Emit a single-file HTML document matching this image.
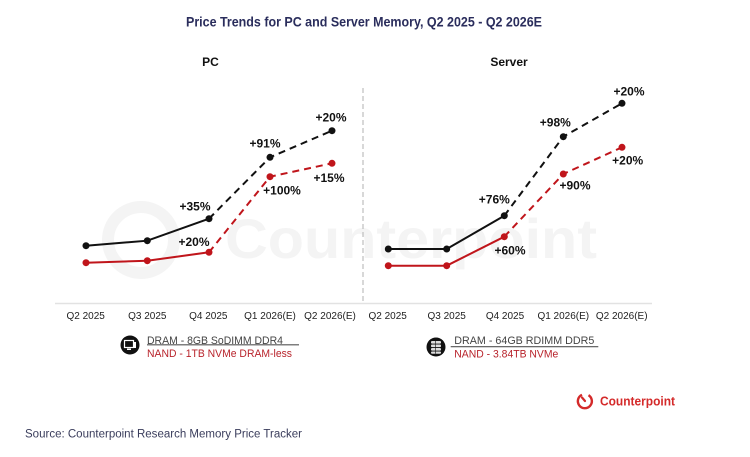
<!DOCTYPE html>
<html><head><meta charset="utf-8"><style>
html,body{margin:0;padding:0;background:#fff;}
svg{display:block;}
text{font-family:"Liberation Sans",Arial,sans-serif;}
</style></head><body>
<svg width="750" height="457" viewBox="0 0 750 457" xmlns="http://www.w3.org/2000/svg">
<rect width="750" height="457" fill="#fff"/>
<!-- watermark -->
<g opacity="1">
<circle cx="141" cy="240" r="33" fill="none" stroke="#f4f4f4" stroke-width="12"/>
<text x="225" y="258" font-size="56" font-weight="bold" fill="#f4f4f4" textLength="372" lengthAdjust="spacingAndGlyphs">Counterpoint</text>
</g>
<!-- title -->
<text x="186" y="26.5" font-size="14" font-weight="bold" fill="#2a2d5c" textLength="356" lengthAdjust="spacingAndGlyphs">Price Trends for PC and Server Memory, Q2 2025 - Q2 2026E</text>
<text x="210.5" y="66" font-size="12" font-weight="bold" fill="#111" text-anchor="middle">PC</text>
<text x="509" y="66" font-size="12" font-weight="bold" fill="#111" text-anchor="middle">Server</text>
<!-- divider -->
<line x1="363" y1="88" x2="363" y2="302" stroke="#bdbdbd" stroke-width="1.2" stroke-dasharray="5,3"/>
<!-- axis -->
<line x1="55" y1="303.5" x2="652" y2="303.5" stroke="#e2e2e2" stroke-width="1.5"/>
<!-- PC DRAM -->
<polyline points="86,245.7 147.3,240.7 209,218.7" fill="none" stroke="#111" stroke-width="2"/>
<polyline points="209,218.7 270,157.3 332,130.7" fill="none" stroke="#111" stroke-width="2" stroke-dasharray="7,5"/>
<!-- PC NAND -->
<polyline points="86,262.7 147.3,260.7 209,252.3" fill="none" stroke="#c0151b" stroke-width="2"/>
<polyline points="209,252.3 270,176.7 332,163.3" fill="none" stroke="#c0151b" stroke-width="2" stroke-dasharray="7,5"/>
<g fill="#111">
<circle cx="86" cy="245.7" r="3.5"/><circle cx="147.3" cy="240.7" r="3.5"/><circle cx="209" cy="218.7" r="3.5"/><circle cx="270" cy="157.3" r="3.5"/><circle cx="332" cy="130.7" r="3.5"/>
</g>
<g fill="#c0151b">
<circle cx="86" cy="262.7" r="3.5"/><circle cx="147.3" cy="260.7" r="3.5"/><circle cx="209" cy="252.3" r="3.5"/><circle cx="270" cy="176.7" r="3.5"/><circle cx="332" cy="163.3" r="3.5"/>
</g>
<!-- Server DRAM -->
<polyline points="388.3,249 446.7,249 504.3,215.7" fill="none" stroke="#111" stroke-width="2"/>
<polyline points="504.3,215.7 563.3,136.7 622,103.3" fill="none" stroke="#111" stroke-width="2" stroke-dasharray="7,5"/>
<polyline points="388.3,265.7 446.7,265.7 504.3,236.7" fill="none" stroke="#c0151b" stroke-width="2"/>
<polyline points="504.3,236.7 563.3,174 622,147.3" fill="none" stroke="#c0151b" stroke-width="2" stroke-dasharray="7,5"/>
<g fill="#111">
<circle cx="388.3" cy="249" r="3.5"/><circle cx="446.7" cy="249" r="3.5"/><circle cx="504.3" cy="215.7" r="3.5"/><circle cx="563.3" cy="136.7" r="3.5"/><circle cx="622" cy="103.3" r="3.5"/>
</g>
<g fill="#c0151b">
<circle cx="388.3" cy="265.7" r="3.5"/><circle cx="446.7" cy="265.7" r="3.5"/><circle cx="504.3" cy="236.7" r="3.5"/><circle cx="563.3" cy="174" r="3.5"/><circle cx="622" cy="147.3" r="3.5"/>
</g>
<!-- data labels -->
<g font-size="12" font-weight="bold" fill="#111" text-anchor="middle">
<text x="195" y="210.3">+35%</text>
<text x="194" y="246">+20%</text>
<text x="265" y="147.3">+91%</text>
<text x="282" y="194.3">+100%</text>
<text x="331" y="121.3">+20%</text>
<text x="329" y="182">+15%</text>
<text x="494.3" y="203.6">+76%</text>
<text x="510" y="254.3">+60%</text>
<text x="555.3" y="126.6">+98%</text>
<text x="575" y="189.3">+90%</text>
<text x="629" y="95.3">+20%</text>
<text x="627.7" y="164.3">+20%</text>
</g>
<!-- ticks -->
<g font-size="10" fill="#222" text-anchor="middle">
<text x="85.7" y="318.8">Q2 2025</text>
<text x="147.3" y="318.8">Q3 2025</text>
<text x="208.3" y="318.8">Q4 2025</text>
<text x="270" y="318.8">Q1 2026(E)</text>
<text x="330" y="318.8">Q2 2026(E)</text>
<text x="387.7" y="318.8">Q2 2025</text>
<text x="446.7" y="318.8">Q3 2025</text>
<text x="505" y="318.8">Q4 2025</text>
<text x="563.3" y="318.8">Q1 2026(E)</text>
<text x="621.7" y="318.8">Q2 2026(E)</text>
</g>
<!-- PC legend -->
<circle cx="130" cy="345" r="9.5" fill="#111"/>
<rect x="124.5" y="340.5" width="9" height="7" fill="none" stroke="#fff" stroke-width="1.2"/>
<rect x="127" y="348.5" width="4" height="1.5" fill="#fff"/>
<rect x="133" y="342" width="3" height="6" fill="#fff"/>
<text x="147" y="344" font-size="11" fill="#444" textLength="136" lengthAdjust="spacingAndGlyphs">DRAM - 8GB SoDIMM DDR4</text>
<line x1="147" y1="344.8" x2="299" y2="344.8" stroke="#555" stroke-width="1.2"/>
<text x="147" y="357" font-size="11" fill="#b8232b" textLength="145" lengthAdjust="spacingAndGlyphs">NAND - 1TB NVMe DRAM-less</text>
<!-- Server legend -->
<circle cx="436" cy="347" r="9.5" fill="#111"/>
<g fill="#ddd">
<rect x="431" y="341" width="10" height="2.6" rx="1"/>
<rect x="431" y="344.5" width="10" height="2.6" rx="1"/>
<rect x="431" y="348" width="10" height="2.6" rx="1"/>
<rect x="431" y="351.5" width="10" height="2.2" rx="1"/>
</g>
<line x1="435.5" y1="341" x2="435.5" y2="353.7" stroke="#111" stroke-width="0.6"/>
<text x="454.3" y="344" font-size="11" fill="#444" textLength="140" lengthAdjust="spacingAndGlyphs">DRAM - 64GB RDIMM DDR5</text>
<line x1="450.7" y1="346.7" x2="598.3" y2="346.7" stroke="#555" stroke-width="1.2"/>
<text x="454.3" y="357.3" font-size="11" fill="#b8232b" textLength="104" lengthAdjust="spacingAndGlyphs">NAND - 3.84TB NVMe</text>
<!-- Counterpoint logo -->
<path d="M582 394.8 A7 7 0 1 0 588.5 395.2" fill="none" stroke="#d42a2a" stroke-width="2.4"/>
<line x1="585" y1="401" x2="582" y2="397.5" stroke="#d42a2a" stroke-width="2.2" stroke-linecap="round"/>
<text x="600" y="405.5" font-size="12.5" font-weight="bold" fill="#d42a2a" textLength="75" lengthAdjust="spacingAndGlyphs">Counterpoint</text>
<!-- source -->
<text x="25" y="437.3" font-size="11.5" fill="#3a3d5c" textLength="277" lengthAdjust="spacingAndGlyphs">Source: Counterpoint Research Memory Price Tracker</text>
</svg>
</body></html>
